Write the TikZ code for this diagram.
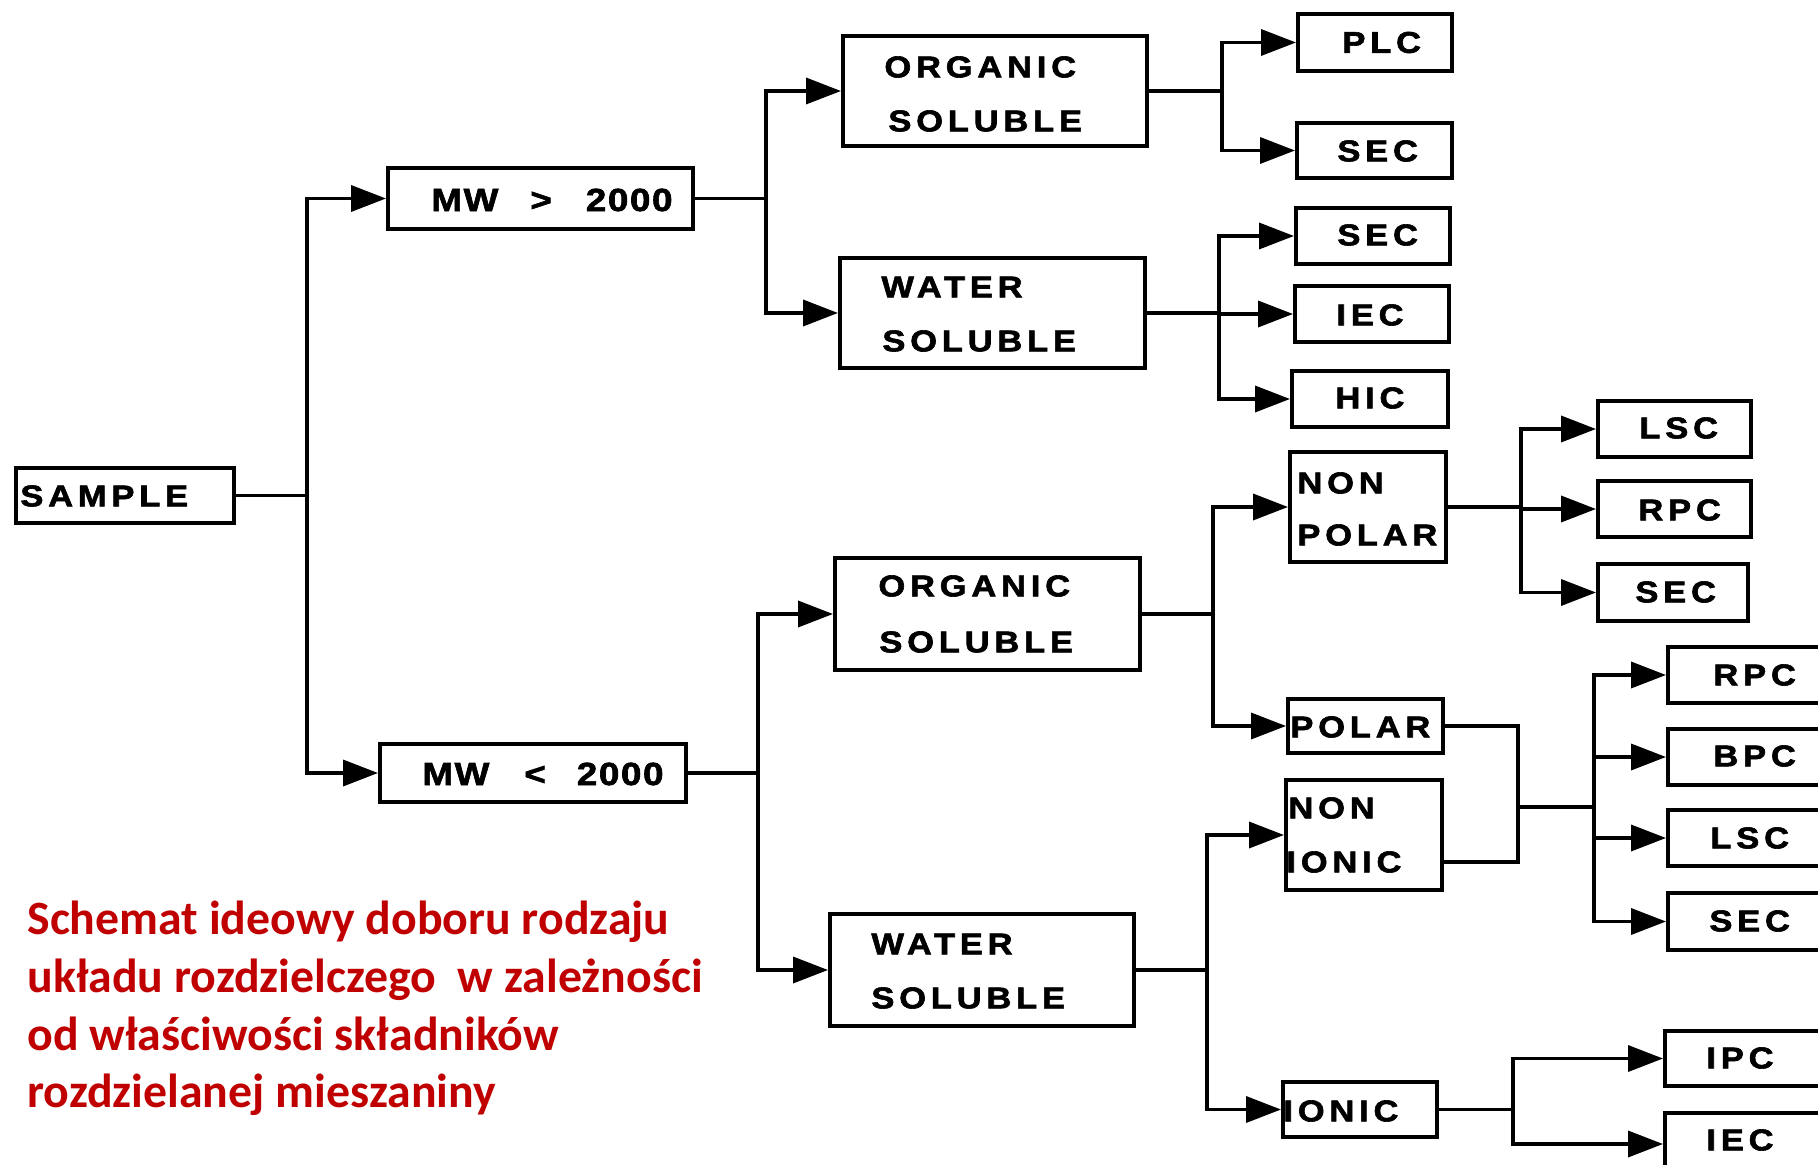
\documentclass[tikz,border=0pt]{standalone}
\usepackage{fontspec}
\setmainfont{Liberation Sans}
\newfontfamily\boxfont{Liberation Sans Bold}[FakeStretch=1.15, FakeBold=2, LetterSpace=16]
\newfontfamily\mwfont{Liberation Sans Bold}[FakeStretch=1.15, FakeBold=2, LetterSpace=5]
\newfontfamily\capfont{Carlito}
\usetikzlibrary{arrows.meta,calc}
\definecolor{capred}{RGB}{192,0,0}
\newcommand\bx[5]{\node[box, minimum width={(#4-#2)*0.5pt}, minimum height={(#5-#3)*0.5pt}] (#1) at ({(#2+#4)/2},{(#3+#5)/2}) {};}
\begin{document}
\begin{tikzpicture}[x=0.5pt,y=-0.5pt,
  box/.style={draw=black, line width=2pt, inner sep=0pt, fill=white},
  lbl/.style={anchor=west, inner sep=0pt, font=\boxfont\fontsize{15pt}{15pt}\selectfont},
  mwl/.style={anchor=west, inner sep=0pt, font=\mwfont\fontsize{16pt}{16pt}\selectfont},
  conn/.style={line width=1.8pt},
  arr/.style={line width=1.8pt, -{Triangle[length=17.5pt,width=13pt]}},
]
\useasboundingbox (0,0) rectangle (1818,1165);
\clip (0,0) rectangle (1818,1165);
\fill[white] (0,0) rectangle (1818,1165);

% boxes
\bx{sample}{16}{468}{234}{523}
\bx{mwhi}{388}{168}{693}{229}
\bx{mwlo}{380}{744}{686}{802}
\bx{org1}{843}{36}{1147}{146}
\bx{wat1}{840}{258}{1145}{368}
\bx{plc}{1298}{14}{1452}{71}
\bx{sec1}{1297}{123}{1452}{178}
\bx{sec2}{1296}{208}{1450}{264}
\bx{iec1}{1295}{286}{1449}{342}
\bx{hic}{1292}{371}{1448}{427}
\bx{nonpolar}{1290}{452}{1446}{562}
\bx{lsc1}{1598}{401}{1751}{457}
\bx{rpc1}{1598}{481}{1751}{537}
\bx{sec3}{1598}{564}{1748}{621}
\bx{org2}{835}{558}{1140}{670}
\bx{polar}{1288}{699}{1443}{753}
\bx{nonionic}{1286}{780}{1442}{890}
\bx{rpc2}{1668}{647}{1840}{703}
\bx{bpc}{1668}{729}{1840}{785}
\bx{lsc2}{1668}{810}{1840}{866}
\bx{sec4}{1668}{893}{1840}{950}
\bx{wat2}{830}{914}{1134}{1026}
\bx{ionic}{1283}{1082}{1437}{1137}
\bx{ipc}{1665}{1031}{1840}{1086}
\bx{iec3}{1665}{1113}{1840}{1175}

% junction columns
\coordinate (jS) at (307,0);
\coordinate (jH) at (766,0);
\coordinate (jL) at (758,0);
\coordinate (jO1) at (1222,0);
\coordinate (jW1) at (1219,0);
\coordinate (jNP) at (1521,0);
\coordinate (jO2) at (1213,0);
\coordinate (jPN) at (1518,0);
\coordinate (jP) at (1594,0);
\coordinate (jW2) at (1207,0);
\coordinate (jI) at (1513,0);
\coordinate (jPNm) at (1518,807);
\coordinate (niOut) at ($(nonionic.east)+(0,27)$);

% connectors
\draw[conn] (sample.east) -- (sample.east -| jS);
\draw[arr] (sample.east -| jS) |- (mwhi.west);
\draw[arr] (sample.east -| jS) |- (mwlo.west);

\draw[conn] (mwhi.east) -- (mwhi.east -| jH);
\draw[arr] (mwhi.east -| jH) |- (org1.west);
\draw[arr] (mwhi.east -| jH) |- (wat1.west);

\draw[conn] (org1.east) -- (org1.east -| jO1);
\draw[arr] (org1.east -| jO1) |- (plc.west);
\draw[arr] (org1.east -| jO1) |- (sec1.west);

\draw[conn] (wat1.east) -- (wat1.east -| jW1);
\draw[arr] (wat1.east -| jW1) |- (sec2.west);
\draw[arr] (wat1.east -| jW1) |- (iec1.west);
\draw[arr] (wat1.east -| jW1) |- (hic.west);

\draw[conn] (mwlo.east) -- (mwlo.east -| jL);
\draw[arr] (mwlo.east -| jL) |- (org2.west);
\draw[arr] (mwlo.east -| jL) |- (wat2.west);

\draw[conn] (org2.east) -- (org2.east -| jO2);
\draw[arr] (org2.east -| jO2) |- (nonpolar.west);
\draw[arr] (org2.east -| jO2) |- (polar.west);

\draw[conn] (nonpolar.east) -- (nonpolar.east -| jNP);
\draw[arr] (nonpolar.east -| jNP) |- (lsc1.west);
\draw[arr] (nonpolar.east -| jNP) |- (rpc1.west);
\draw[arr] (nonpolar.east -| jNP) |- (sec3.west);

\draw[conn] (polar.east) -- (polar.east -| jPN) -- (niOut -| jPN) -- (niOut);
\draw[conn] (jPNm) -- (jPNm -| jP);
\draw[arr] (jPNm -| jP) |- (rpc2.west);
\draw[arr] (jPNm -| jP) |- (bpc.west);
\draw[arr] (jPNm -| jP) |- (lsc2.west);
\draw[arr] (jPNm -| jP) |- (sec4.west);

\draw[conn] (wat2.east) -- (wat2.east -| jW2);
\draw[arr] (wat2.east -| jW2) |- (nonionic.west);
\draw[arr] (wat2.east -| jW2) |- (ionic.west);

\draw[conn] (ionic.east) -- (ionic.east -| jI);
\draw[arr] (ionic.east -| jI) |- (ipc.west);
\draw[arr] (ionic.east -| jI) |- (iec3.west);

% labels
\node[lbl] (tsample) at (20,496) {SAMPLE};
\node[mwl] (tmwhi) at (431,200) {MW\hspace{16pt}>\hspace{17pt}2000};
\node[mwl] (tmwlo) at (422,774) {MW\hspace{17.5pt}<\hspace{15.5pt}2000};
\node[lbl] (torg1a) at (884,67) {ORGANIC};
\node[lbl] (torg1b) at (888,121) {SOLUBLE};
\node[lbl] (twat1a) at (881,287) {WATER};
\node[lbl] (twat1b) at (882,341) {SOLUBLE};
\node[lbl] (tplc) at (1342,42.5) {PLC};
\node[lbl] (tsec1) at (1337,151) {SEC};
\node[lbl] (tsec2) at (1337,235) {SEC};
\node[lbl] (tiec1) at (1336,315) {IEC};
\node[lbl] (thic) at (1335,398) {HIC};
\node[lbl] (tnp1) at (1297,483) {NON};
\node[lbl] (tnp2) at (1297,535) {POLAR};
\node[lbl] (tlsc1) at (1639,428) {LSC};
\node[lbl] (trpc1) at (1638,510) {RPC};
\node[lbl] (tsec3) at (1635,592) {SEC};
\node[lbl] (torg2a) at (878,586) {ORGANIC};
\node[lbl] (torg2b) at (879,642) {SOLUBLE};
\node[lbl] (tpolar) at (1290,727) {POLAR};
\node[lbl] (tni1) at (1288,808) {NON};
\node[lbl] (tni2) at (1286,862) {IONIC};
\node[lbl] (trpc2) at (1713,675) {RPC};
\node[lbl] (tbpc) at (1713,756) {BPC};
\node[lbl] (tlsc2) at (1710,838) {LSC};
\node[lbl] (tsec4) at (1709,921) {SEC};
\node[lbl] (twat2a) at (871,944) {WATER};
\node[lbl] (twat2b) at (871,998) {SOLUBLE};
\node[lbl] (tionic) at (1283,1111) {IONIC};
\node[lbl] (tipc) at (1706,1058) {IPC};
\node[lbl] (tiec3) at (1706,1140) {IEC};

% caption
\node[anchor=north west, inner sep=0pt, align=left, text=capred,
  font=\capfont\bfseries\fontsize{23.9pt}{28.8pt}\selectfont] (caption) at (27,901)
  {Schemat ideowy doboru rodzaju\\układu rozdzielczego~ w zależności\\od właściwości składników\\rozdzielanej mieszaniny};
\end{tikzpicture}
\end{document}
